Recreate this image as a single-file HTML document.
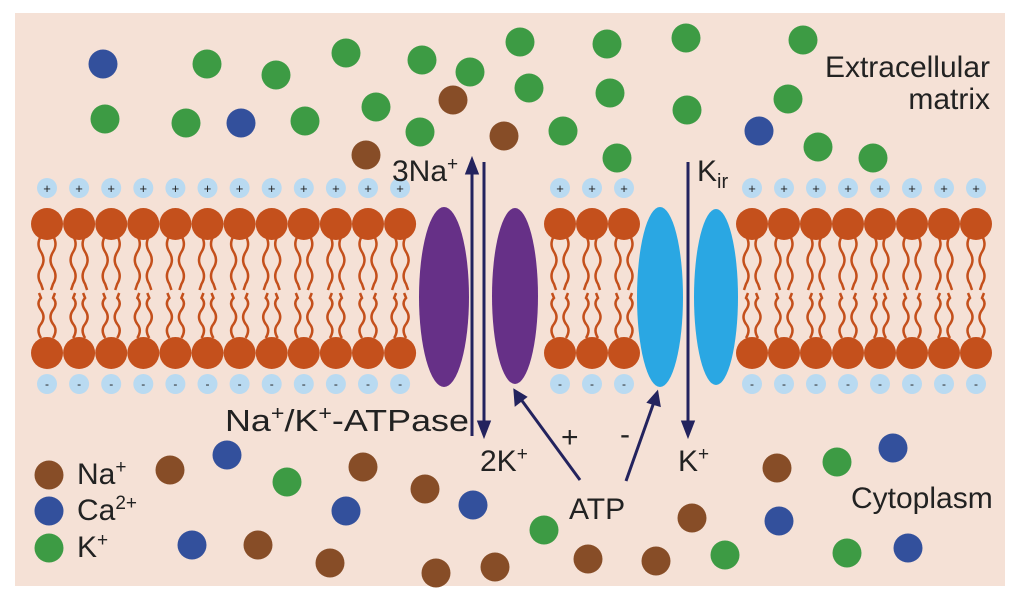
<!DOCTYPE html>
<html><head><meta charset="utf-8"><style>
html,body{margin:0;padding:0;background:#fff;}
svg{display:block;}
text{font-family:"Liberation Sans",Arial,sans-serif;fill:#222;}
</style></head><body>
<svg id="s" width="1017" height="600" viewBox="0 0 1017 600" xmlns="http://www.w3.org/2000/svg">
<rect x="15" y="13" width="990" height="573" fill="#f5e1d6"/>
<g id="lip"></g>
<g id="parts"></g>
<ellipse cx="444" cy="297" rx="25" ry="90" fill="#663087"/>
<ellipse cx="515" cy="296" rx="23" ry="88" fill="#663087"/>
<ellipse cx="660" cy="297" rx="23" ry="90" fill="#2aa7e3"/>
<ellipse cx="716" cy="297" rx="22" ry="88" fill="#2aa7e3"/>
<g stroke="#23235e" stroke-width="3" fill="#23235e">
<line x1="472" y1="436" x2="472" y2="170"/><polygon points="472,160 467,173 477,173"/>
<line x1="484" y1="162" x2="484" y2="425"/><polygon points="484,435 479,422 489,422"/>
<line x1="688" y1="162" x2="688" y2="425"/><polygon points="688,435 683,422 693,422"/>
<line x1="580" y1="480" x2="520" y2="398"/><polygon points="515,391 516,404 525,397"/>
<line x1="626" y1="481" x2="654" y2="402"/><polygon points="657,393 649,402 659,405"/>
</g>
<g font-size="30">
<text x="990" y="77" text-anchor="end">Extracellular</text>
<text x="990" y="109" text-anchor="end">matrix</text>
<text x="392" y="181">3Na<tspan font-size="19" dy="-11">+</tspan></text>
<text x="697" y="181">K<tspan font-size="20" dy="7">ir</tspan></text>
<text x="225" y="431" font-size="31" textLength="244" lengthAdjust="spacingAndGlyphs">Na<tspan font-size="20" dy="-11">+</tspan><tspan dy="11">/K</tspan><tspan font-size="20" dy="-11">+</tspan><tspan dy="11">-ATPase</tspan></text>
<text x="480" y="471">2K<tspan font-size="19" dy="-11">+</tspan></text>
<text x="561" y="447">+</text>
<text x="620" y="444">-</text>
<text x="678" y="471">K<tspan font-size="19" dy="-11">+</tspan></text>
<text x="569" y="519">ATP</text>
<text x="851" y="508">Cytoplasm</text>
<text x="77" y="484">Na<tspan font-size="19" dy="-11">+</tspan></text>
<text x="77" y="520">Ca<tspan font-size="19" dy="-11">2+</tspan></text>
<text x="77" y="557">K<tspan font-size="19" dy="-11">+</tspan></text>
</g>
</svg>
<script>
var NS="http://www.w3.org/2000/svg";
function el(p,t,a){var e=document.createElementNS(NS,t);for(var k in a)e.setAttribute(k,a[k]);p.appendChild(e);return e;}
var lip=document.getElementById('lip');
var xs=[];
for(var i=0;i<12;i++)xs.push(47+i*32.1);
[560,592,624].forEach(function(x){xs.push(x)});
for(var i=0;i<8;i++)xs.push(752+i*32);
var c='#c4501c';
xs.forEach(function(x,j){
  el(lip,'circle',{cx:x,cy:188,r:10,fill:'#b9daf1'});
  el(lip,'text',{x:x,y:193,'text-anchor':'middle','font-size':'13',fill:'#334'}).textContent='+';
  el(lip,'circle',{cx:x,cy:384,r:10,fill:'#b9daf1'});
  el(lip,'text',{x:x,y:388,'text-anchor':'middle','font-size':'12',fill:'#556'}).textContent='-';
  [-6,6].forEach(function(o,k){
    var s=((j+k)%2)?1:-1;
    var a=x+o;
    el(lip,'path',{d:'M'+a+' 236 q'+(5*s)+' 8 0 16 q'+(-5*s)+' 8 0 16 q'+(5*s)+' 8 0 16 l'+(-2*s)+' 6',stroke:c,'stroke-width':2.5,fill:'none'});
    el(lip,'path',{d:'M'+a+' 338 q'+(5*s)+' -8 0 -14 q'+(-5*s)+' -7 0 -14 q'+(5*s)+' -7 0 -12 l'+(2*s)+' -5',stroke:c,'stroke-width':2.5,fill:'none'});
  });
  el(lip,'circle',{cx:x,cy:224,r:16,fill:c});
  el(lip,'circle',{cx:x,cy:353,r:16,fill:c});
});
var G='#3d9b44',B='#33509c',N='#874d27';
var P=[[103,64,B],[207,64,G],[276,75,G],[346,53,G],[422,60,G],[470,72,G],[105,119,G],[186,123,G],[241,123,B],[305,121,G],[376,107,G],[420,132,G],[453,100,N],[366,155,N],
[520,42,G],[607,44,G],[686,38,G],[803,40,G],[529,88,G],[610,93,G],[687,110,G],[788,99,G],[504,136,N],[563,131,G],[617,158,G],[818,147,G],[873,158,G],[759,131,B],
[777,468,N],[837,462,G],[893,448,B],[692,518,N],[779,521,B],[544,530,G],[588,559,N],[656,561,N],[725,555,G],[847,553,G],[908,548,B],
[49,475,N],[49,511,B],[49,548,G],[170,470,N],[227,455,B],[287,482,G],[363,467,N],[425,489,N],[346,511,B],[473,505,B],[192,545,B],[258,545,N],[330,563,N],[436,573,N],[495,567,N]];
var pg=document.getElementById('parts');
P.forEach(function(p){el(pg,'circle',{cx:p[0],cy:p[1],r:14.5,fill:p[2]});});
</script>
</body></html>
